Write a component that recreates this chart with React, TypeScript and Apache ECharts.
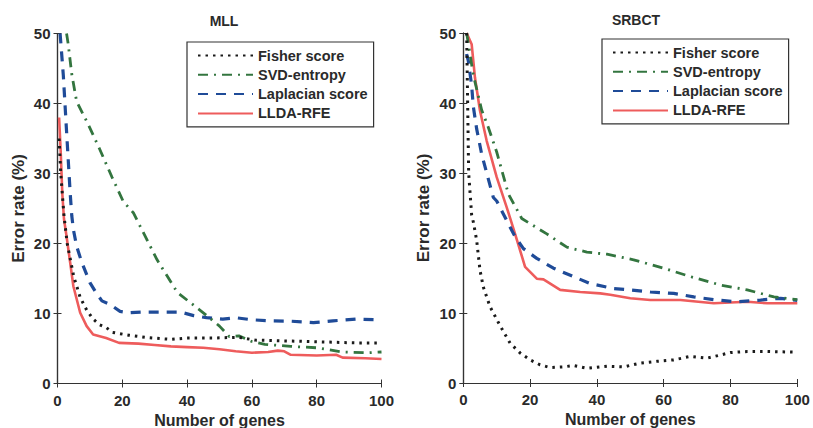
import React, { useEffect, useRef } from "react";
import * as echarts from "echarts";

const FONT = "'Liberation Sans', Arial, Helvetica, sans-serif";

const seriesNames = ["Fisher score", "SVD-entropy", "Laplacian score", "LLDA-RFE"];
const xTicks = [0, 20, 40, 60, 80, 100];
const yTicks = [0, 10, 20, 30, 40, 50];

// MLL panel: [number of genes, error rate %]
const mllFisher = [
  [0.5, 35], [1, 30], [2, 24], [3, 20], [5, 15.3], [7, 12.3], [9, 10.5], [11, 9.2],
  [13, 8.4], [15, 8.0], [17, 7.3], [22, 6.9], [27, 6.6], [35, 6.3], [40, 6.5],
  [48, 6.5], [56, 6.6], [61, 6.2], [69, 6.1], [77, 6.0], [85, 5.9], [92, 5.8], [100, 5.8],
];
const mllSvd = [
  [2.8, 50], [3.3, 48.5], [4.4, 44.2], [5.9, 40.3], [9.5, 37], [13, 33.5], [16.8, 29.5],
  [20.3, 26], [23.4, 24.4], [30.7, 17.7], [37, 13], [45, 10.1], [50, 8.2], [53, 6.7],
  [56, 6.8], [60, 6.0], [64, 5.6], [72, 5.3], [80, 5.1], [88, 4.5], [96, 4.4], [100, 4.5],
];
const mllLaplacian = [
  [0.8, 50], [1.8, 44], [2.8, 36], [3.9, 27.3], [4.4, 24], [4.9, 22], [5.9, 19.6],
  [7.5, 17.3], [10, 14.4], [12, 12.9], [13.7, 11.8], [16.2, 11.3], [19.3, 10.3],
  [22, 10.1], [26, 10.2], [31, 10.2], [38, 10.2], [42, 9.7], [46, 9.4], [51, 9.2],
  [55, 9.4], [60, 9.1], [66, 8.95], [72, 8.9], [79, 8.7], [85, 8.95], [92, 9.2], [100, 9.1],
];
const mllLlda = [
  [0.5, 38], [1, 33], [1.5, 27], [2, 23.5], [2.8, 21], [3.9, 17.3], [4.9, 13.9],
  [7, 10.1], [9, 8.2], [11, 7.0], [15, 6.5], [19, 5.8], [25, 5.7], [30, 5.5],
  [35, 5.3], [40, 5.2], [45, 5.1], [50, 4.9], [55, 4.6], [60, 4.4], [65, 4.5],
  [68, 4.7], [70, 4.6], [72, 4.1], [80, 4.0], [86, 4.1], [88, 3.7], [95, 3.6], [100, 3.5],
];

// SRBCT panel
const srbctFisher = [
  [1, 50], [1.3, 40], [1.6, 30], [2.5, 24], [3, 23], [4, 20.4], [5, 16.1], [6, 13.7],
  [8, 10.9], [11, 8.2], [14, 5.7], [17, 4.3], [20, 3.3], [23, 2.6], [26, 2.2],
  [30, 2.3], [33, 2.5], [37, 2.1], [43, 2.4], [48, 2.3], [53, 2.85], [58, 3.1],
  [63, 3.3], [68, 3.8], [73, 3.55], [77, 4.0], [80, 4.35], [85, 4.5], [91, 4.5], [100, 4.4],
];
const srbctSvd = [
  [1, 50], [3, 44], [5.5, 39], [7.5, 36.5], [10, 33], [13.5, 27], [17.5, 23.5],
  [25, 21.3], [31, 19.4], [37, 18.7], [43, 18.4], [51, 17.6], [60, 16.4], [68, 15.2],
  [77, 14.0], [85, 13.3], [93, 12.3], [100, 11.9],
];
const srbctLaplacian = [
  [1, 47], [1.5, 46], [2.5, 42.5], [3, 39.5], [4, 36.3], [5.5, 32.7], [7, 30],
  [9, 26.5], [10, 26], [13, 23.2], [15.5, 20.9], [18, 19.2], [22, 17.8], [27, 16.4],
  [33, 15.2], [38, 14.2], [45, 13.5], [50, 13.3], [56, 13.0], [63, 12.8], [69, 12.3],
  [76, 11.85], [82, 11.6], [89, 11.85], [95, 12.1], [100, 11.8],
];
const srbctLlda = [
  [1, 50], [2.5, 48.4], [3.5, 43.6], [5, 38.9], [7, 34.6], [10, 29.4], [13, 25.1],
  [15.5, 21.3], [18.5, 16.6], [22, 14.9], [24, 14.8], [29, 13.3], [35, 13.0],
  [41, 12.8], [44, 12.6], [50, 12.1], [56, 11.85], [65, 11.85], [75, 11.4],
  [85, 11.6], [91, 11.4], [100, 11.4],
];

const styles = [
  { color: "#1a1a1a", width: 3, type: [2.5, 5] as number[] },
  { color: "#33753f", width: 2.8, type: [10, 6, 2, 6] as number[] },
  { color: "#1f4b98", width: 3.2, type: [10, 8] as number[] },
  { color: "#ee5c5c", width: 2.6, type: "solid" as any },
];

function makeSeries(datas: number[][][], xi: number, yi: number) {
  return datas.map((d, i) => ({
    name: seriesNames[i],
    type: "line",
    xAxisIndex: xi,
    yAxisIndex: yi,
    data: d,
    symbol: "none",
    showSymbol: false,
    clip: true,
    z: 4 - i,
    lineStyle: { color: styles[i].color, width: styles[i].width, type: styles[i].type, cap: "butt" },
    itemStyle: { color: styles[i].color },
  }));
}

const axisColor = "#333";
const labelStyle = { fontFamily: FONT, fontSize: 15, fontWeight: "bold", color: "#2a2a2a" };

function xAxes(gridIndex: number, nameGap: number) {
  return [
    {
      type: "value", gridIndex, position: "bottom", min: 0, max: 100, interval: 20,
      axisLine: { show: true, lineStyle: { color: axisColor, width: 1.2 } },
      axisTick: { show: true, inside: true, length: 4, lineStyle: { color: axisColor } },
      axisLabel: { ...labelStyle, margin: 9, formatter: (v: number) => (xTicks.includes(v) ? String(v) : "") },
      splitLine: { show: false },
      name: "Number of genes", nameLocation: "middle", nameGap,
      nameTextStyle: { fontFamily: FONT, fontSize: 16, fontWeight: "bold", color: "#2a2a2a" },
    },
    {
      type: "value", gridIndex, position: "top", min: 0, max: 100, interval: 20,
      axisLine: { show: true, lineStyle: { color: axisColor, width: 1.2 } },
      axisTick: { show: true, inside: true, length: 4, lineStyle: { color: axisColor } },
      axisLabel: { show: false },
      splitLine: { show: false },
    },
  ];
}

function yAxes(gridIndex: number, nameGap: number) {
  return [
    {
      type: "value", gridIndex, position: "left", min: 0, max: 50, interval: 10,
      axisLine: { show: true, lineStyle: { color: axisColor, width: 1.2 } },
      axisTick: { show: true, inside: true, length: 4, lineStyle: { color: axisColor } },
      axisLabel: { ...labelStyle, margin: 7, formatter: (v: number) => (yTicks.includes(v) ? String(v) : "") },
      splitLine: { show: false },
      name: "Error rate (%)", nameLocation: "middle", nameGap,
      nameTextStyle: { fontFamily: FONT, fontSize: 17, fontWeight: "bold", color: "#2a2a2a" },
    },
    {
      type: "value", gridIndex, position: "right", min: 0, max: 50, interval: 10,
      axisLine: { show: true, lineStyle: { color: axisColor, width: 1.2 } },
      axisTick: { show: true, inside: true, length: 4, lineStyle: { color: axisColor } },
      axisLabel: { show: false },
      splitLine: { show: false },
    },
  ];
}

function legend(left: number, top: number) {
  return {
    left, top,
    orient: "vertical",
    data: seriesNames,
    itemWidth: 55,
    itemHeight: 14,
    itemGap: 4.3,
    padding: [6, 6, 6, 10],
    borderColor: "#333",
    borderWidth: 1.2,
    backgroundColor: "#fff",
    selectedMode: false,
    itemStyle: { opacity: 0 },
    textStyle: { fontFamily: FONT, fontSize: 14.5, fontWeight: "bold", color: "#2a2a2a" },
  };
}

export default function App() {
  const ref = useRef<HTMLDivElement>(null);
  useEffect(() => {
    document.body.style.margin = "0";
    const chart = echarts.init(ref.current!, null, { renderer: "svg" });
    chart.setOption({
      animation: false,
      backgroundColor: "#fff",
      title: [
        { text: "MLL", left: 219, top: 9, textAlign: "center", textStyle: { fontFamily: FONT, fontSize: 14, fontWeight: "bold", color: "#2a2a2a" } },
        { text: "SRBCT", left: 631, top: 8, textAlign: "center", textStyle: { fontFamily: FONT, fontSize: 14, fontWeight: "bold", color: "#2a2a2a" } },
      ],
      grid: [
        { left: 57.5, top: 33.5, width: 324, height: 350, show: false, outerBoundsMode: "none", containLabel: false },
        { left: 463.3, top: 33, width: 334, height: 350, show: false, outerBoundsMode: "none", containLabel: false },
      ],
      xAxis: [...xAxes(0, 21), ...xAxes(1, 20)],
      yAxis: [...yAxes(0, 31), ...yAxes(1, 31)],
      legend: [legend(187, 42), legend(602, 39)],
      series: [
        ...makeSeries([mllFisher, mllSvd, mllLaplacian, mllLlda], 0, 0),
        ...makeSeries([srbctFisher, srbctSvd, srbctLaplacian, srbctLlda], 2, 2),
      ],
    });
    return () => chart.dispose();
  }, []);
  return <div ref={ref} style={{ width: 813, height: 428 }} />;
}
